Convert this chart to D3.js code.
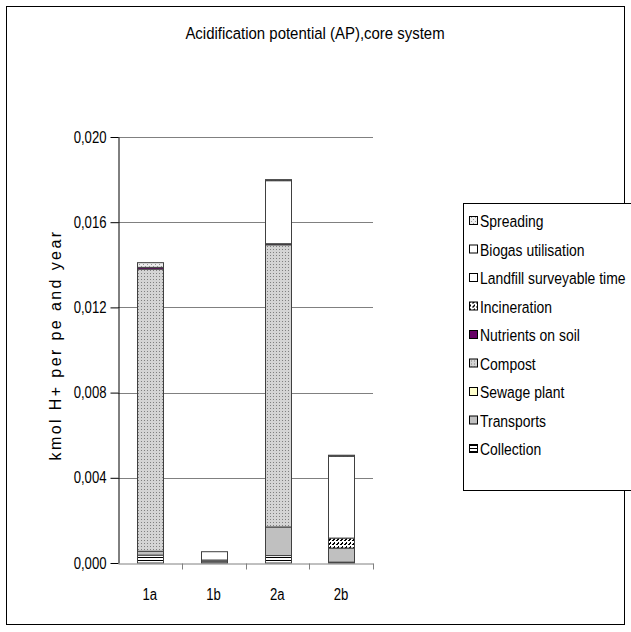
<!DOCTYPE html>
<html>
<head>
<meta charset="utf-8">
<script src="https://cdn.jsdelivr.net/npm/d3@7"></script>
<style>
  body { margin: 0; background: #fff; }
  text { font-family: "Liberation Sans", Arial, sans-serif; fill: #000; }
</style>
</head>
<body>
<svg id="chart" width="631" height="632"></svg>
<script>
// categories and series (bottom of the stack first)
const categories = ["1a", "1b", "2a", "2b"];
const seriesNames = ["Collection", "Transports", "Sewage plant", "Compost", "Nutrients on soil",
  "Incineration", "Landfill surveyable time", "Biogas utilisation", "Spreading"];

const collection = [0.00037, 0.00006, 0.00035, 0.00004];
const transports = [0.00018, 0.00008, 0.00134, 0.00066];
const sewagePlant = [0, 0, 0, 0];
const compost = [0.01325, 0, 0.01325, 0];
const nutrients = [0.00008, 0, 0.00005, 0];
const incineration = [0, 0, 0, 0.00047];
const landfill = [0, 0, 0.00296, 0.00384];
const biogas = [0, 0.00039, 0, 0];
const spreading = [0.00022, 0, 0.00005, 0.00005];

const yTicks = [0, 0.004, 0.008, 0.012, 0.016, 0.020];

const seriesValues = [collection, transports, sewagePlant, compost, nutrients,
  incineration, landfill, biogas, spreading];

const table = categories.map((c, i) => {
  const row = {cat: c};
  seriesNames.forEach((s, j) => row[s] = seriesValues[j][i]);
  return row;
});

// the original uses a narrow font, squeeze the text horizontally
const narrow = 0.82;

const svg = d3.select("#chart");

// patterns
const defs = svg.append("defs");
let p = defs.append("pattern").attr("id", "pCompost").attr("width", 3).attr("height", 3)
  .attr("patternUnits", "userSpaceOnUse");
p.append("rect").attr("width", 3).attr("height", 3).attr("fill", "#d4d4d4");
p.append("rect").attr("width", 1).attr("height", 1).attr("fill", "#808080");

p = defs.append("pattern").attr("id", "pCollection").attr("width", 4).attr("height", 3)
  .attr("patternUnits", "userSpaceOnUse");
p.append("rect").attr("width", 4).attr("height", 3).attr("fill", "#fff");
p.append("rect").attr("y", 2).attr("width", 4).attr("height", 1).attr("fill", "#000");

p = defs.append("pattern").attr("id", "pIncin").attr("width", 4).attr("height", 4)
  .attr("patternUnits", "userSpaceOnUse");
p.append("rect").attr("width", 4).attr("height", 4).attr("fill", "#fff");
p.append("rect").attr("x", 0).attr("y", 0).attr("width", 2).attr("height", 1).attr("fill", "#000");
p.append("rect").attr("x", 2).attr("y", 2).attr("width", 1).attr("height", 2).attr("fill", "#000");
p.append("rect").attr("x", 1).attr("y", 3).attr("width", 1).attr("height", 1).attr("fill", "#000");

p = defs.append("pattern").attr("id", "pSpread").attr("width", 4).attr("height", 4)
  .attr("patternUnits", "userSpaceOnUse");
p.append("rect").attr("width", 4).attr("height", 4).attr("fill", "#eeeeee");
p.append("rect").attr("x", 3).attr("y", 0).attr("width", 1).attr("height", 1).attr("fill", "#999");
p.append("rect").attr("x", 1).attr("y", 2).attr("width", 1).attr("height", 1).attr("fill", "#999");

const fills = {
  "Collection": "url(#pCollection)",
  "Transports": "#c0c0c0",
  "Sewage plant": "#ffffcc",
  "Compost": "url(#pCompost)",
  "Nutrients on soil": "#660066",
  "Incineration": "url(#pIncin)",
  "Landfill surveyable time": "#ffffff",
  "Biogas utilisation": "#ffffff",
  "Spreading": "url(#pSpread)"
};

// outer frame
svg.append("rect").attr("x", 6.5).attr("y", 6.5).attr("width", 618).attr("height", 618)
  .attr("fill", "none").attr("stroke", "#000");

svg.append("text").attr("transform", "translate(315,39) scale(0.88,1)")
  .attr("text-anchor", "middle")
  .attr("font-size", 17).text("Acidification potential (AP),core system");

const plotLeft = 118, plotRight = 373, plotTop = 137, plotBottom = 563;

const x = d3.scaleBand().domain(categories).range([plotLeft, plotRight])
  .paddingInner(0.6).paddingOuter(0.3);
const y = d3.scaleLinear().domain([0, 0.02]).range([plotBottom, plotTop]);

// gridlines
svg.append("g").selectAll("line").data(yTicks.slice(1)).join("line")
  .attr("x1", plotLeft).attr("x2", plotRight)
  .attr("y1", d => Math.round(y(d)) + 0.5).attr("y2", d => Math.round(y(d)) + 0.5)
  .attr("stroke", "#808080");

// stacked bars
const stack = d3.stack().keys(seriesNames)(table);
svg.append("g").selectAll("g").data(stack).join("g")
  .attr("fill", d => fills[d.key])
  .selectAll("rect").data(d => d.filter(v => v[1] - v[0] > 0)).join("rect")
  .attr("x", d => Math.round(x(d.data.cat)) + 0.5)
  .attr("width", Math.round(x.bandwidth()))
  .attr("y", d => y(d[1]))
  .attr("height", d => y(d[0]) - y(d[1]))
  .attr("stroke", "#404040").attr("stroke-width", 1);

// y axis
const yAxis = svg.append("g").attr("transform", `translate(${plotLeft + 0.5},0)`)
  .call(d3.axisLeft(y).tickValues(yTicks).tickSize(8).tickSizeOuter(0)
    .tickFormat(d => d3.format(".3f")(d).replace(".", ",")));
yAxis.select(".domain").attr("stroke", "#000");
yAxis.selectAll(".tick line").attr("stroke", "#000");
yAxis.selectAll("text").attr("font-size", 16)
  .attr("x", -12 / narrow).attr("transform", `scale(${narrow},1)`);

// x axis
const xAxis = svg.append("g").attr("transform", `translate(0,${plotBottom + 0.5})`)
  .call(d3.axisBottom(x).tickSize(0).tickSizeOuter(0));
xAxis.select(".domain").attr("stroke", "#808080");
xAxis.selectAll("text").attr("font-size", 16).attr("dy", 0).attr("y", 37)
  .attr("transform", `scale(${narrow},1)`);
xAxis.append("g").selectAll("line").data(categories).join("line")
  .attr("x1", d => Math.round(x(d) + x.bandwidth() + x.step() * 0.3) + 0.5)
  .attr("x2", d => Math.round(x(d) + x.bandwidth() + x.step() * 0.3) + 0.5)
  .attr("y1", 0).attr("y2", 6).attr("stroke", "#808080");

// y label
svg.append("text").attr("transform", "translate(61,345) rotate(-90)")
  .attr("text-anchor", "middle").attr("font-size", 16).attr("letter-spacing", 2.4)
  .text("kmol H+ per pe and year");

// legend
const legend = svg.append("g");
legend.append("rect").attr("x", 463.5).attr("y", 203.5).attr("width", 200).attr("height", 287)
  .attr("fill", "#fff").attr("stroke", "#000");
const legendItems = seriesNames.slice().reverse();
const ly = d3.scalePoint().domain(legendItems).range([221, 449]);
const li = legend.selectAll("g.item").data(legendItems).join("g").attr("class", "item")
  .attr("transform", d => `translate(0,${ly(d)})`);
li.append("rect").attr("x", 469.5).attr("y", -4.5).attr("width", 8).attr("height", 8)
  .attr("fill", d => fills[d]).attr("stroke", "#000");
li.append("text").attr("transform", `translate(480,6) scale(${narrow},1)`)
  .attr("font-size", 17).text(d => d);
</script>
</body>
</html>
